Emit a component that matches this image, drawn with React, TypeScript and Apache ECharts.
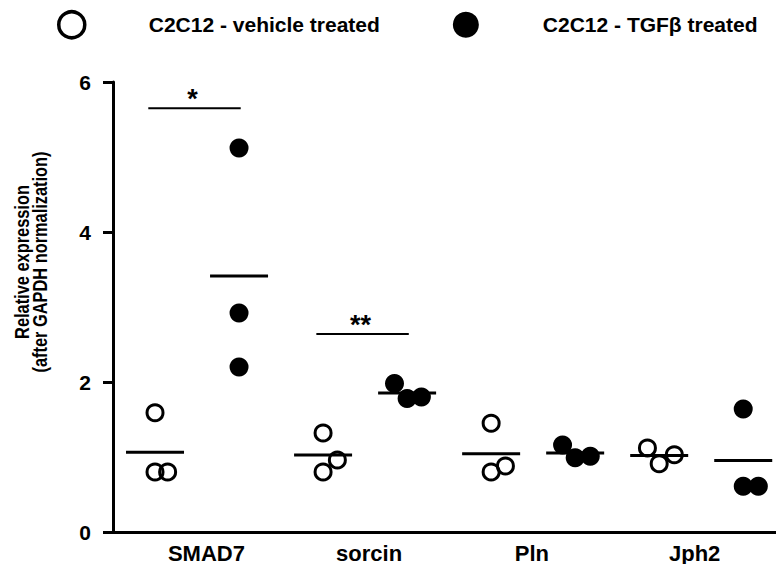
import React, { useEffect, useRef } from "react";
import * as echarts from "echarts";

// ---- data ----
const genes = ["SMAD7", "sorcin", "Pln", "Jph2"];
const seriesNames = ["C2C12 - vehicle treated", "C2C12 - TGFβ treated"];
// relative expression values, one list per gene
const vehicleValues = [
  [1.59, 0.8, 0.8],
  [1.32, 0.96, 0.8],
  [1.45, 0.8, 0.88],
  [1.12, 0.91, 1.03],
];
const tgfValues = [
  [5.12, 2.92, 2.2],
  [1.98, 1.78, 1.8],
  [1.16, 0.99, 1.01],
  [1.64, 0.61, 0.61],
];
// horizontal dodge of overlapping dots (in slot units)
const vehicleDodge = [
  [0, 0, 0.15],
  [0, 0.17, 0],
  [0, 0, 0.17],
  [-0.14, 0, 0.18],
];
const tgfDodge = [
  [0, 0, 0],
  [-0.15, 0, 0.17],
  [-0.15, 0, 0.18],
  [0, 0, 0.18],
];
// significance brackets: gene index, label, height
const sigGene = [0, 1];
const sigLabel = ["*", "**"];
const sigHeight = [5.65, 2.64];
const yMin = 0;
const yMax = 6;
const yStep = 2;

const FONT = "'Liberation Sans', Arial, Helvetica, sans-serif";

function mean(a: number[]) {
  return a.reduce((s, v) => s + v, 0) / a.length;
}

export default function App() {
  const ref = useRef<HTMLDivElement>(null);

  useEffect(() => {
    if (!ref.current) return;
    const chart = echarts.init(ref.current, null, { renderer: "svg" });

    const vehPts: number[][] = [];
    const tgfPts: number[][] = [];
    const means: number[][] = [];
    genes.forEach((_, g) => {
      vehicleValues[g].forEach((v, i) => vehPts.push([g * 2 + vehicleDodge[g][i], v]));
      tgfValues[g].forEach((v, i) => tgfPts.push([g * 2 + 1 + tgfDodge[g][i], v]));
      means.push([g * 2, mean(vehicleValues[g])]);
      means.push([g * 2 + 1, mean(tgfValues[g])]);
    });
    const sigData = sigGene.map((g, i) => [g * 2, sigHeight[i]]);

    const option: any = {
      animation: false,
      backgroundColor: "#fff",
      textStyle: { fontFamily: FONT },
      legend: {
        left: 52,
        top: 5,
        itemWidth: 26,
        itemHeight: 26,
        itemGap: 73,
        data: seriesNames,
        itemStyle: { borderWidth: 3.5 },
        textStyle: {
          fontFamily: FONT,
          fontSize: 21,
          fontWeight: "bold",
          color: "#000",
          padding: [0, 0, 0, 59],
        },
      },
      grid: [
        { left: 113, right: 0, top: 82, bottom: 32, containLabel: false },
        { left: 125, width: 672, top: 82, bottom: 32, containLabel: false },
      ],
      xAxis: [
        {
          type: "value",
          gridIndex: 0,
          min: -0.5,
          max: 7.39,
          splitLine: { show: false },
          axisTick: { show: false },
          axisLabel: { show: false },
          axisLine: { show: true, onZero: false, lineStyle: { color: "#000", width: 3 } },
        },
        {
          type: "category",
          gridIndex: 1,
          data: genes,
          axisLine: { show: false },
          axisTick: { show: false },
          splitLine: { show: false },
          axisLabel: {
            margin: 11,
            fontFamily: FONT,
            fontSize: 22,
            fontWeight: "bold",
            color: "#000",
          },
        },
      ],
      yAxis: [
        {
          type: "value",
          gridIndex: 0,
          min: yMin,
          max: yMax,
          interval: yStep,
          splitLine: { show: false },
          axisLine: { show: true, onZero: false, lineStyle: { color: "#000", width: 3 } },
          axisTick: { show: true, length: 10, lineStyle: { color: "#000", width: 3 } },
          axisLabel: {
            margin: 22,
            fontFamily: FONT,
            fontSize: 21,
            fontWeight: "bold",
            color: "#000",
          },
        },
        { type: "value", gridIndex: 1, show: false },
      ],
      graphic: [
        {
          type: "text",
          x: 31,
          y: 262,
          rotation: Math.PI / 2,
          scaleX: 0.82,
          style: {
            text: "Relative expression\n(after GAPDH normalization)",
            font: `bold 20px ${FONT}`,
            fill: "#000",
            textAlign: "center",
            textVerticalAlign: "middle",
            lineHeight: 18,
          },
        },
      ],
      series: [
        {
          name: seriesNames[0],
          type: "scatter",
          xAxisIndex: 0,
          yAxisIndex: 0,
          symbol: "circle",
          symbolSize: 16,
          itemStyle: { color: "rgba(0,0,0,0)", borderColor: "#000", borderWidth: 3, opacity: 1 },
          data: vehPts,
          z: 3,
        },
        {
          name: seriesNames[1],
          type: "scatter",
          xAxisIndex: 0,
          yAxisIndex: 0,
          symbol: "circle",
          symbolSize: 19,
          itemStyle: { color: "#000", opacity: 1 },
          data: tgfPts,
          z: 3,
        },
        {
          type: "custom",
          xAxisIndex: 0,
          yAxisIndex: 0,
          z: 4,
          silent: true,
          data: means,
          renderItem: (params: any, api: any) => {
            const c = api.coord([api.value(0), api.value(1)]);
            return {
              type: "line",
              shape: { x1: c[0] - 29, y1: c[1], x2: c[0] + 29, y2: c[1] },
              style: { stroke: "#000", lineWidth: 3 },
            };
          },
        },
        {
          type: "custom",
          xAxisIndex: 0,
          yAxisIndex: 0,
          z: 4,
          silent: true,
          data: sigData,
          renderItem: (params: any, api: any) => {
            const a = api.coord([api.value(0) - 0.08, api.value(1)]);
            const b = api.coord([api.value(0) + 1.02, api.value(1)]);
            const cx = (a[0] + b[0]) / 2;
            return {
              type: "group",
              children: [
                {
                  type: "line",
                  shape: { x1: a[0], y1: a[1], x2: b[0], y2: b[1] },
                  style: { stroke: "#000", lineWidth: 2 },
                },
                {
                  type: "text",
                  x: cx - 2,
                  y: a[1] + 4,
                  style: {
                    text: sigLabel[params.dataIndex],
                    font: `bold 27px ${FONT}`,
                    fill: "#000",
                    textAlign: "center",
                    textVerticalAlign: "bottom",
                  },
                },
              ],
            };
          },
        },
      ],
    };

    chart.setOption(option);
    return () => chart.dispose();
  }, []);

  return (
    <div
      ref={ref}
      style={{ position: "fixed", left: 0, top: 0, width: 776, height: 564, background: "#fff" }}
    />
  );
}
